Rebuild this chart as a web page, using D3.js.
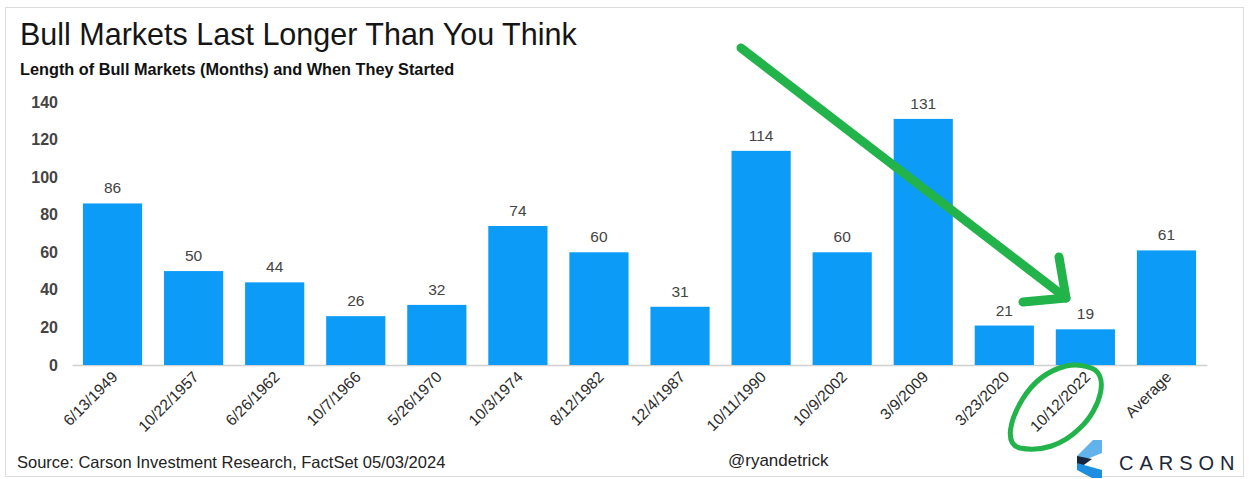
<!DOCTYPE html>
<html><head><meta charset="utf-8">
<script src="https://cdn.jsdelivr.net/npm/d3@7"></script>
<style>body{margin:0;background:#fff}svg{display:block}text{font-family:"Liberation Sans",Arial,sans-serif}</style>
</head><body>
<svg id="c" width="1249" height="479"></svg>
<script>
const categories = ["6/13/1949","10/22/1957","6/26/1962","10/7/1966","5/26/1970","10/3/1974","8/12/1982","12/4/1987","10/11/1990","10/9/2002","3/9/2009","3/23/2020","10/12/2022","Average"];
const months = [86,50,44,26,32,74,60,31,114,60,131,21,19,61];
const yTicks = [0,20,40,60,80,100,120,140];
const title = "Bull Markets Last Longer Than You Think";
const subtitle = "Length of Bull Markets (Months) and When They Started";
const source = "Source: Carson Investment Research, FactSet 05/03/2024";
const handle = "@ryandetrick";
const brand = "CARSON";

const svg = d3.select("#c");
svg.append("rect").attr("x",5.5).attr("y",7.5).attr("width",1238).attr("height",469)
  .attr("fill","#fff").attr("stroke","#dcdcdc");

const x = d3.scaleBand().domain(categories).range([72,1207]).paddingInner(0.27).paddingOuter(0.135);
const y = d3.scaleLinear().domain([0,140]).range([365,102]);

svg.append("text").attr("x",20).attr("y",45).attr("font-size",30.5).attr("fill","#151515").text(title);
svg.append("text").attr("x",20).attr("y",75).attr("font-size",16.3).attr("font-weight","bold").attr("fill","#111").text(subtitle);

// y axis labels
svg.append("g").selectAll("text").data(yTicks).join("text")
  .attr("x",58).attr("y",d=>y(d)).attr("dy","0.35em").attr("text-anchor","end")
  .attr("font-size",16).attr("font-weight","bold").attr("fill","#444").text(d=>d);

// baseline
const xAxis = svg.append("g").attr("transform","translate(0,365)")
  .call(d3.axisBottom(x).tickSize(0).tickPadding(0));
xAxis.select(".domain").attr("stroke","#d0d0d0").attr("stroke-width",1.5);
xAxis.selectAll(".tick text").remove();

// bars
svg.append("g").selectAll("rect").data(months).join("rect")
  .attr("x",(d,i)=>x(categories[i])).attr("width",x.bandwidth())
  .attr("y",d=>y(d)).attr("height",d=>y(0)-y(d)).attr("fill","#0c9cf8");

// value labels
svg.append("g").selectAll("text").data(months).join("text")
  .attr("x",(d,i)=>x(categories[i])+x.bandwidth()/2).attr("y",d=>y(d)-10)
  .attr("text-anchor","middle").attr("font-size",15.5).attr("fill","#444").text(d=>d);

// category labels
svg.append("g").selectAll("text").data(categories).join("text")
  .attr("transform",d=>`translate(${x(d)+x.bandwidth()/2+6},${378}) rotate(-45)`)
  .attr("text-anchor","end").attr("font-size",15.5).attr("fill","#2a2a2a").text(d=>d);

// footer
svg.append("text").attr("x",17).attr("y",468).attr("font-size",16.5).attr("fill","#222").text(source);
svg.append("text").attr("x",728).attr("y",466).attr("font-size",17).attr("fill","#222").text(handle);

// logo
const lg = svg.append("g");
lg.append("polygon").attr("points","1093,440 1102,440 1102,453 1077,463 1077,456").attr("fill","#62b3ec");
lg.append("polygon").attr("points","1077,456 1092,459 1077,470").attr("fill","#16263d");
lg.append("polygon").attr("points","1077,463 1102,470 1102,478 1092,478 1077,470").attr("fill","#1d8ee0");
svg.append("text").attr("x",1119).attr("y",470).attr("font-size",20).attr("letter-spacing",6)
  .attr("fill","#1b2638").text(brand);

// green annotations
const g = svg.append("g").attr("stroke","#22b34b").attr("fill","none").attr("stroke-linecap","round").attr("stroke-linejoin","round");
g.append("path").attr("d","M741,48 L1066,298").attr("stroke-width",9);
g.append("path").attr("d","M1059,257 L1066,298 L1023,302").attr("stroke-width",9);
g.append("path").attr("stroke-width",5)
  .attr("d","M1088,367 C1112,372 1100,410 1080,428 C1062,446 1040,452 1020,448 C1004,444 1010,420 1022,400 C1034,380 1050,370 1066,366 C1075,364 1082,365 1088,367 Z");
</script>
</body></html>
